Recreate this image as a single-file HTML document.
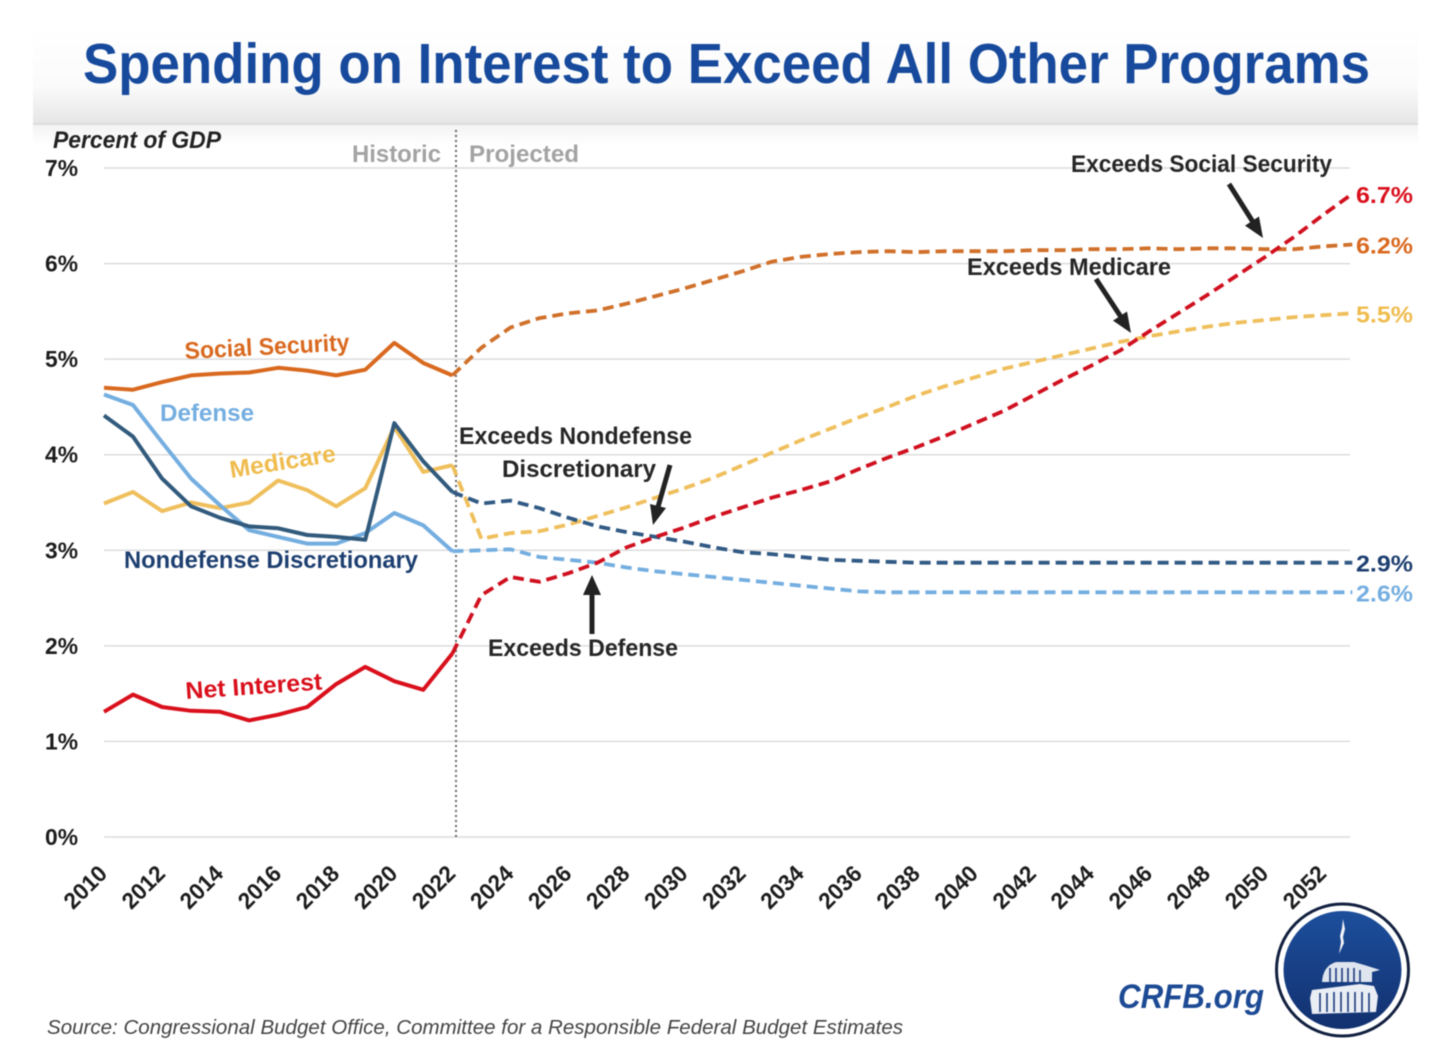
<!DOCTYPE html>
<html lang="en">
<head>
<meta charset="utf-8">
<title>Spending on Interest to Exceed All Other Programs</title>
<style>
html,body{margin:0;padding:0;background:#fff;width:1456px;height:1062px;overflow:hidden}
svg{display:block;filter:blur(.4px)}
text{font-family:"Liberation Sans",sans-serif}
.b{font-weight:700}
</style>
</head>
<body>
<svg id="chart" width="1456" height="1062" viewBox="0 0 1456 1062" xmlns="http://www.w3.org/2000/svg">
<defs>
<linearGradient id="hdr" x1="0" y1="0" x2="0" y2="1">
<stop offset="0" stop-color="#ffffff"/><stop offset="0.6" stop-color="#fbfbfb"/><stop offset="1" stop-color="#e5e5e5"/>
</linearGradient>
<linearGradient id="hdr2" x1="0" y1="0" x2="0" y2="1">
<stop offset="0" stop-color="#f3f3f3"/><stop offset="1" stop-color="#ffffff"/>
</linearGradient>
<linearGradient id="logoFill" x1="0" y1="0" x2="0" y2="1">
<stop offset="0" stop-color="#1d4f9c"/><stop offset="1" stop-color="#12306f"/>
</linearGradient>
</defs>
<rect x="33" y="28" width="1385" height="96" fill="url(#hdr)"/>
<rect x="33" y="123" width="1385" height="2" fill="#dcdcdc"/>
<rect x="33" y="125" width="1385" height="20" fill="url(#hdr2)"/>
<text class="b" x="83" y="83" font-size="57" fill="#174a9c" textLength="1287" lengthAdjust="spacingAndGlyphs">Spending on Interest to Exceed All Other Programs</text>
<text x="53" y="148" font-size="24" font-style="italic" font-weight="700" fill="#222" textLength="168" lengthAdjust="spacingAndGlyphs">Percent of GDP</text>
<text class="b" x="352" y="162" font-size="24" fill="#a3a3a3" textLength="89" lengthAdjust="spacingAndGlyphs">Historic</text>
<text class="b" x="469" y="162" font-size="24" fill="#a3a3a3" textLength="110" lengthAdjust="spacingAndGlyphs">Projected</text>

<g id="grid"></g>
<line x1="456" y1="130" x2="456" y2="837" stroke="#666" stroke-width="2" stroke-dasharray="2 3"/>
<g id="series"></g>
<g id="xticks"></g>
<g id="yticks"></g>

<g class="b">
<text class="b" transform="translate(185,359) rotate(-3)" font-size="24" fill="#d9691f" textLength="165" lengthAdjust="spacingAndGlyphs">Social Security</text>
<text class="b" x="160" y="421" font-size="24" fill="#74aee0" textLength="94" lengthAdjust="spacingAndGlyphs">Defense</text>
<text class="b" transform="translate(231,478) rotate(-9)" font-size="24" fill="#efbc4e" textLength="107" lengthAdjust="spacingAndGlyphs">Medicare</text>
<text class="b" x="124" y="568" font-size="24" fill="#1d3f70" textLength="294" lengthAdjust="spacingAndGlyphs">Nondefense Discretionary</text>
<text class="b" transform="translate(186,699) rotate(-4)" font-size="24" fill="#d9101c" textLength="137" lengthAdjust="spacingAndGlyphs">Net Interest</text>
</g>

<g>
<text class="b" x="1071" y="172" font-size="24" fill="#262626" textLength="261" lengthAdjust="spacingAndGlyphs">Exceeds Social Security</text>
<text class="b" x="967" y="275" font-size="24" fill="#262626" textLength="204" lengthAdjust="spacingAndGlyphs">Exceeds Medicare</text>
<text class="b" x="459" y="444" font-size="24" fill="#262626" textLength="233" lengthAdjust="spacingAndGlyphs">Exceeds Nondefense</text>
<text class="b" x="502" y="477" font-size="24" fill="#262626" textLength="154" lengthAdjust="spacingAndGlyphs">Discretionary</text>
<text class="b" x="488" y="656" font-size="24" fill="#262626" textLength="190" lengthAdjust="spacingAndGlyphs">Exceeds Defense</text>
<g fill="#222" stroke="#222">
<line x1="1229" y1="184" x2="1253" y2="222" stroke-width="5"/><polygon points="1263,238 1245,225.6 1259,216.5" stroke="none"/>
</g>
<g fill="#222" stroke="#222">
<line x1="1096" y1="279" x2="1121" y2="317" stroke-width="5"/><polygon points="1131,333 1113,320.6 1127,311.5" stroke="none"/>
</g>
<g fill="#222" stroke="#222">
<line x1="670" y1="465" x2="658" y2="507" stroke-width="5"/><polygon points="653,525 650,504 666,508" stroke="none"/>
</g>
<g fill="#222" stroke="#222">
<line x1="592" y1="634" x2="592" y2="594" stroke-width="5"/><polygon points="592,575 601,595 583,595" stroke="none"/>
</g>
</g>

<g id="endlabels"></g>

<text x="47" y="1034" font-size="20" font-style="italic" fill="#444" textLength="856" lengthAdjust="spacingAndGlyphs">Source: Congressional Budget Office, Committee for a Responsible Federal Budget Estimates</text>
<text class="b" x="1118" y="1008" font-size="34" font-style="italic" fill="#1d4a94" textLength="146" lengthAdjust="spacingAndGlyphs">CRFB.org</text>

<g>
<circle cx="1342.5" cy="970" r="66" fill="#fff" stroke="#12203f" stroke-width="3"/>
<circle cx="1342.5" cy="970" r="59" fill="url(#logoFill)"/>
<path d="M1343 919 l2 10 -2 8 1 6 -5 11 2 -12 -1 -6 2 -8z" fill="#f2f4f8"/>
<path d="M1322 982 q1 -16 14 -20 l18 0 q14 4 26 8 l-8 2 0 10z" fill="#dfe5ef"/>
<path d="M1310 998 l2 -8 48 -6 14 2 4 10 -2 16 -64 2z" fill="#e9edf4"/>
<g stroke="#1b3b7c" stroke-width="1.6">
<line x1="1320" y1="993" x2="1320" y2="1012"/><line x1="1327" y1="993" x2="1327" y2="1012"/><line x1="1334" y1="992" x2="1334" y2="1012"/><line x1="1341" y1="992" x2="1341" y2="1012"/><line x1="1348" y1="992" x2="1348" y2="1012"/><line x1="1355" y1="992" x2="1355" y2="1012"/><line x1="1362" y1="992" x2="1362" y2="1012"/><line x1="1369" y1="993" x2="1369" y2="1012"/>
<line x1="1330" y1="968" x2="1330" y2="982"/><line x1="1336" y1="968" x2="1336" y2="982"/><line x1="1342" y1="968" x2="1342" y2="982"/><line x1="1348" y1="968" x2="1348" y2="982"/><line x1="1354" y1="968" x2="1354" y2="982"/><line x1="1360" y1="970" x2="1360" y2="982"/>
</g>
</g>
</svg>
<script>
var NS = 'http://www.w3.org/2000/svg';

var histYears = [2010,2011,2012,2013,2014,2015,2016,2017,2018,2019,2020,2021,2022];
var projYears = [2022,2023,2024,2025,2026,2027,2028,2029,2030,2031,2032,2033,2034,2035,2036,2037,2038,2039,2040,2041,2042,2043,2044,2045,2046,2047,2048,2049,2050,2051,2052,2053];

var yTickValues = [0,1,2,3,4,5,6,7];
var yTickLabels = ['0%','1%','2%','3%','4%','5%','6%','7%'];
var xTickYears = [2010,2012,2014,2016,2018,2020,2022,2024,2026,2028,2030,2032,2034,2036,2038,2040,2042,2044,2046,2048,2050,2052];

var socialHist = [4.70,4.68,4.76,4.83,4.85,4.86,4.91,4.88,4.83,4.89,5.17,4.96,4.83];
var medicareHist = [3.49,3.61,3.41,3.50,3.44,3.50,3.73,3.63,3.46,3.65,4.29,3.82,3.89];
var defenseHist = [4.63,4.52,4.13,3.75,3.47,3.21,3.14,3.07,3.07,3.18,3.39,3.26,2.99];
var nondefHist = [4.41,4.19,3.75,3.46,3.34,3.25,3.23,3.16,3.14,3.11,4.33,3.93,3.61];
var interestHist = [1.31,1.49,1.36,1.32,1.31,1.22,1.28,1.36,1.60,1.78,1.63,1.54,1.92];

var socialProj = [4.83,5.12,5.33,5.43,5.48,5.51,5.58,5.66,5.74,5.83,5.92,6.02,6.07,6.10,6.12,6.13,6.12,6.13,6.13,6.13,6.14,6.14,6.15,6.15,6.16,6.15,6.16,6.16,6.15,6.15,6.18,6.20];
var medicareProj = [3.89,3.12,3.18,3.20,3.27,3.36,3.45,3.55,3.65,3.76,3.89,4.02,4.15,4.27,4.39,4.50,4.62,4.72,4.81,4.90,4.97,5.04,5.11,5.18,5.24,5.29,5.34,5.38,5.41,5.44,5.46,5.48];
var defenseProj = [2.99,3.00,3.01,2.93,2.90,2.87,2.82,2.78,2.75,2.72,2.69,2.66,2.63,2.60,2.57,2.56,2.56,2.56,2.56,2.56,2.56,2.56,2.56,2.56,2.56,2.56,2.56,2.56,2.56,2.56,2.56,2.56];
var nondefProj = [3.61,3.49,3.52,3.44,3.34,3.25,3.19,3.14,3.09,3.03,2.98,2.96,2.93,2.90,2.89,2.88,2.87,2.87,2.87,2.87,2.87,2.87,2.87,2.87,2.87,2.87,2.87,2.87,2.87,2.87,2.87,2.87];
var interestProj = [1.92,2.53,2.72,2.67,2.76,2.87,3.03,3.14,3.24,3.35,3.45,3.55,3.63,3.72,3.85,3.97,4.08,4.20,4.33,4.46,4.62,4.78,4.93,5.09,5.29,5.48,5.67,5.87,6.07,6.28,6.51,6.73];

var endLabels = ['6.7%','6.2%','5.5%','2.9%','2.6%'];
var endSeries = [interestProj,socialProj,medicareProj,nondefProj,defenseProj];
var endNames = ['end-label-net-interest','end-label-social-security','end-label-medicare','end-label-nondefense','end-label-defense'];
var endColors = ['#d9101c','#d9691f','#efbc4e','#1d3f70','#74aee0'];

function xScale(year){ return 104 + (year - 2010) * 29.03; }
function yScale(v){ return 837 - v * 95.57; }

function pointsFor(years, values){
  var out = [];
  for (var i = 0; i < years.length; i++) {
    out.push(xScale(years[i]).toFixed(1) + ',' + yScale(values[i]).toFixed(1));
  }
  return out.join(' ');
}

var grid = document.getElementById('grid');


yTickValues.forEach(function(v){
  var el = document.createElementNS(NS, 'line');
  
  
  el.setAttribute('x1', 104);
  el.setAttribute('x2', 1350);
  el.setAttribute('y1', yScale(v));
  el.setAttribute('y2', yScale(v));
  el.setAttribute('stroke', '#dcdcdc');
  el.setAttribute('stroke-width', '1.5');
  grid.appendChild(el);
});

var yt = document.getElementById('yticks');


yTickValues.forEach(function(v, i){
  var el = document.createElementNS(NS, 'text');
  
  
  el.setAttribute('x', 45);
  el.setAttribute('y', yScale(v) + 8);
  el.setAttribute('font-size', '23');
  el.setAttribute('font-weight', '700');
  el.setAttribute('fill', '#1c1c1c');
  el.setAttribute('textLength', '33');
  el.setAttribute('lengthAdjust', 'spacingAndGlyphs');
  el.textContent = yTickLabels[i];
  yt.appendChild(el);
});

var xt = document.getElementById('xticks');


xTickYears.forEach(function(y){
  var el = document.createElementNS(NS, 'text');
  
  
  el.setAttribute('transform', 'translate(' + (xScale(y) + 4.5) + ',875) rotate(-45)');
  el.setAttribute('text-anchor', 'end');
  el.setAttribute('font-size', '23');
  el.setAttribute('font-weight', '700');
  el.setAttribute('fill', '#1c1c1c');
  el.setAttribute('textLength', '50');
  el.setAttribute('lengthAdjust', 'spacingAndGlyphs');
  el.textContent = String(y);
  xt.appendChild(el);
});

var sg = document.getElementById('series');



function addLine(name, years, values, color, dashed){
  var el = document.createElementNS(NS, 'polyline');
  
  
  el.setAttribute('points', pointsFor(years, values));
  el.setAttribute('fill', 'none');
  el.setAttribute('stroke', color);
  el.setAttribute('stroke-width', dashed ? '3.8' : '4');
  el.setAttribute('stroke-linejoin', 'round');
  if (dashed) { el.setAttribute('stroke-dasharray', '11 6'); }
  sg.appendChild(el);
}

addLine('medicare-projected', projYears, medicareProj, '#efbf5c', true);
addLine('defense-projected', projYears, defenseProj, '#74aee0', true);
addLine('nondefense-projected', projYears, nondefProj, '#315a84', true);
addLine('social-security-projected', projYears, socialProj, '#d0702a', true);
addLine('net-interest-projected', projYears, interestProj, '#d0101f', true);
addLine('medicare-historic', histYears, medicareHist, '#efbf5c', false);
addLine('defense-historic', histYears, defenseHist, '#74aee0', false);
addLine('nondefense-historic', histYears, nondefHist, '#315a7c', false);
addLine('social-security-historic', histYears, socialHist, '#d9691f', false);
addLine('net-interest-historic', histYears, interestHist, '#d9101c', false);

var eg = document.getElementById('endlabels');


endLabels.forEach(function(label, i){
  var last = endSeries[i][endSeries[i].length - 1];
  var el = document.createElementNS(NS, 'text');
  
  
  el.setAttribute('x', 1356);
  el.setAttribute('y', yScale(last) + 9);
  el.setAttribute('font-size', '23');
  el.setAttribute('font-weight', '700');
  el.setAttribute('fill', endColors[i]);
  el.setAttribute('textLength', '57');
  el.setAttribute('lengthAdjust', 'spacingAndGlyphs');
  el.textContent = label;
  eg.appendChild(el);
});
</script>
</body>
</html>
